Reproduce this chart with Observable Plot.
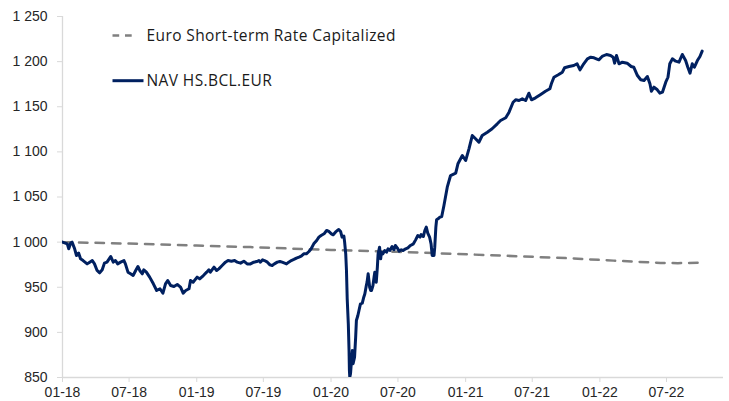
<!DOCTYPE html>
<html>
<head>
<meta charset="utf-8">
<script src="https://cdn.jsdelivr.net/npm/d3@7"></script>
<script src="https://cdn.jsdelivr.net/npm/@observablehq/plot@0.6"></script>
<style>
  html, body { margin: 0; padding: 0; background: #fff; }
  #chart { position: relative; width: 729px; height: 401px; }
</style>
</head>
<body>
<div id="chart"></div>
<script>
// ---- Data ----
const navDates = [
  "2018-01-01","2018-01-14","2018-01-18","2018-01-23","2018-01-27","2018-02-03","2018-02-08","2018-02-14","2018-02-19","2018-02-26",
  "2018-03-09","2018-03-16","2018-03-23","2018-03-29","2018-04-05","2018-04-12","2018-04-19","2018-04-25","2018-05-02","2018-05-12",
  "2018-05-19","2018-05-25","2018-05-31","2018-06-08","2018-06-17","2018-06-21","2018-06-28","2018-07-05","2018-07-12","2018-07-19",
  "2018-07-25","2018-07-30","2018-08-06","2018-08-10","2018-08-17","2018-08-26","2018-09-05","2018-09-14","2018-09-23","2018-10-01",
  "2018-10-08","2018-10-14","2018-10-22","2018-10-31","2018-11-09","2018-11-18","2018-11-25","2018-12-02","2018-12-11","2018-12-15",
  "2018-12-22","2019-01-02","2019-01-09","2019-01-19","2019-01-28","2019-02-03","2019-02-07","2019-02-17","2019-02-24","2019-03-02",
  "2019-03-11","2019-03-20","2019-03-27","2019-04-05","2019-04-14","2019-04-21","2019-04-30","2019-05-09","2019-05-18","2019-05-27",
  "2019-06-05","2019-06-13","2019-06-19","2019-06-23","2019-06-29","2019-07-04","2019-07-12","2019-07-19","2019-07-25","2019-07-31",
  "2019-08-08","2019-08-15","2019-08-21","2019-08-28","2019-09-02","2019-09-08","2019-09-15","2019-09-22","2019-09-29","2019-10-06",
  "2019-10-12","2019-10-19","2019-10-26","2019-11-02","2019-11-08","2019-11-15","2019-11-23","2019-11-29","2019-12-05","2019-12-13",
  "2019-12-20","2019-12-26","2020-01-02","2020-01-07","2020-01-13","2020-01-18","2020-01-22","2020-01-27","2020-01-31","2020-02-05",
  "2020-02-07","2020-02-10","2020-02-12","2020-02-14","2020-02-17","2020-02-19","2020-02-20","2020-02-21","2020-02-23","2020-02-25",
  "2020-02-28","2020-03-01","2020-03-05","2020-03-08","2020-03-10","2020-03-14","2020-03-17","2020-03-21","2020-03-26","2020-03-30",
  "2020-04-02","2020-04-06","2020-04-08","2020-04-11","2020-04-15","2020-04-18","2020-04-20","2020-04-24","2020-04-27","2020-04-29",
  "2020-05-03","2020-05-06","2020-05-08","2020-05-12","2020-05-15","2020-05-17","2020-05-21","2020-05-26","2020-05-31","2020-06-04",
  "2020-06-09","2020-06-15","2020-06-20","2020-06-24","2020-06-29","2020-07-04","2020-07-10","2020-07-15","2020-07-22","2020-07-28",
  "2020-08-04","2020-08-12","2020-08-18","2020-08-24","2020-08-30","2020-09-02","2020-09-08","2020-09-12","2020-09-16","2020-09-20",
  "2020-09-25","2020-09-29","2020-10-02","2020-10-07","2020-10-09","2020-10-12","2020-10-14","2020-10-18","2020-10-23","2020-10-28",
  "2020-11-03","2020-11-12","2020-11-21","2020-12-05","2020-12-11","2020-12-23","2021-01-01","2021-01-10","2021-01-19","2021-01-28",
  "2021-02-06","2021-02-15","2021-03-01","2021-03-14","2021-03-28","2021-04-06","2021-04-20","2021-04-29","2021-05-10","2021-05-17",
  "2021-05-26","2021-06-04","2021-06-13","2021-06-22","2021-06-29","2021-07-10","2021-07-24","2021-08-06","2021-08-18","2021-08-22",
  "2021-08-29","2021-09-11","2021-09-21","2021-09-27","2021-10-09","2021-10-22","2021-10-31","2021-11-08","2021-11-18","2021-11-28",
  "2021-12-07","2021-12-16","2021-12-29","2022-01-07","2022-01-19","2022-01-30","2022-02-06","2022-02-10","2022-02-15","2022-02-22",
  "2022-03-03","2022-03-16","2022-03-27","2022-04-03","2022-04-13","2022-04-22","2022-05-01","2022-05-10","2022-05-17","2022-05-21",
  "2022-05-28","2022-06-06","2022-06-13","2022-06-20","2022-06-29","2022-07-05","2022-07-10","2022-07-17","2022-07-26","2022-08-04",
  "2022-08-13","2022-08-22","2022-08-28","2022-09-03","2022-09-09","2022-09-15","2022-09-23","2022-09-30","2022-10-06"
];
const navValues = [
  1000,998.1,992.6,998.8,1000,992.6,985.2,987.8,981.5,979.6,
  975.9,977.8,979.6,975.9,968.6,966,969.3,976.7,977.8,984.1,
  977.8,979.6,975.9,977.8,979.6,975.9,966.7,964.9,963,968.6,
  973,968.6,964.9,969.3,966.7,961.2,953.8,946.4,948.3,943.4,
  953.8,957.5,951.9,950.8,953,950.1,943.4,946.4,948.3,957.5,
  955.6,961.2,959.3,963,966.7,969.3,966.7,972.3,968.6,970.4,
  974.1,977.8,979.6,978.9,979.6,977.8,976.7,978.9,975.9,975.9,
  977.8,978.5,979.6,977.8,980.4,979.6,977.8,974.8,974.1,975.9,
  977.8,978.5,977.8,976.7,975.9,977.8,979.6,980.8,982.2,983.3,
  984.4,987,987,989.6,992.6,998.1,1001.8,1005.5,1007.3,1009.2,
  1012.9,1011.8,1009.2,1008.1,1011,1012.9,1014,1011.8,1005.5,1006.6,
  1000,987,968.6,937.2,909.5,879.9,857.8,850.4,854.1,865.2,
  879.9,865.2,872.5,894.7,913.2,918.7,924.2,931.6,932.4,939,
  942.7,951.9,955.6,964.9,950.1,946.4,946.4,951.9,961.2,966.7,
  955.6,972.3,987,994.4,981.5,988.9,987,990.7,988.9,992.6,
  990.7,995.1,991.5,996.3,993.7,990,991.5,990.7,992.6,993.7,
  996.3,998.1,1002.5,1007.3,1005.5,1008.4,1006.2,1012.9,1016.6,1010,
  1005.5,998.1,985.2,985.2,994.4,1016.6,1024.7,1025.8,1027.6,1028.4,
  1040.6,1060.9,1073.8,1076.4,1086.8,1096,1090.4,1103.4,1118.1,1114.5,
  1110.7,1118.1,1121.8,1125.6,1131.1,1134.8,1137.8,1144,1155,1157.7,
  1156.9,1158.8,1156.9,1165,1157.7,1159.9,1163.6,1167.2,1169.9,1175.4,
  1182.7,1185.7,1188.3,1193.2,1194.6,1195.7,1197.6,1190.9,1197.6,1203.1,
  1204.9,1204.2,1202,1205.7,1207.9,1206.8,1204.9,1198.3,1206.8,1197.6,
  1199.4,1198.3,1194.6,1193.8,1184.6,1179.9,1179.1,1183.5,1175.4,1167.2,
  1171.7,1168.8,1165,1166.1,1177.2,1182.7,1197.6,1203.1,1200.5,1199.4,
  1207.9,1201.2,1193.8,1187.2,1197.6,1193.8,1201.2,1205.7,1211.6
];
const estrDates  = ["2018-01-01","2018-07-01","2019-01-01","2019-05-27","2020-01-01","2020-07-01","2021-03-10","2021-10-01","2022-02-07","2022-06-15","2022-08-01","2022-10-06"];
const estrValues = [1000, 998.4, 996.2, 994.5, 991.3, 989.3, 985.5, 982.3, 979.5, 977.0, 976.7, 977.3];
const xTickDates = ["2018-01-01","2018-07-01","2019-01-01","2019-07-01","2020-01-01","2020-07-01","2021-01-01","2021-07-01","2022-01-01","2022-07-01"];
const xDomain = ["2018-01-01","2022-12-03"];
const yTicks = [850, 900, 950, 1000, 1050, 1100, 1150, 1200, 1250];
const yDomain = [850, 1250];
const seriesNames = ["Euro Short-term Rate Capitalized", "NAV HS.BCL.EUR"];

// ---- Build tables ----
const parse = d3.utcParse("%Y-%m-%d");
const nav = navDates.map((d, i) => ({date: parse(d), value: navValues[i]}));
const estr = estrDates.map((d, i) => ({date: parse(d), value: estrValues[i]}));
const fmtY = d3.formatLocale({decimal: ".", thousands: " ", grouping: [3], currency: ["", ""]}).format(",");
const fmtX = d3.utcFormat("%m-%y");

const axisGrey = "#d9d9d9";
const navColor = "#002060";
const estrColor = "#808080";

const chart = Plot.plot({
  width: 729,
  height: 401,
  marginLeft: 62,
  marginRight: 6,
  marginTop: 16,
  marginBottom: 24,
  style: {fontFamily: "'Liberation Sans', Arial, sans-serif", fontSize: "14px", color: "#262626", background: "#fff"},
  x: {type: "utc", domain: xDomain.map(parse)},
  y: {domain: yDomain},
  marks: [
    Plot.ruleY([yDomain[0]], {stroke: axisGrey, strokeWidth: 1.3}),
    Plot.ruleX([parse(xDomain[0])], {stroke: axisGrey, strokeWidth: 1.3}),
    Plot.axisX({ticks: xTickDates.map(parse), tickFormat: fmtX, tickSize: 5, tickPadding: 5, stroke: axisGrey, fill: "#262626", label: null}),
    Plot.axisY({ticks: yTicks, tickFormat: fmtY, tickSize: 5, tickPadding: 10, stroke: axisGrey, fill: "#262626", label: null}),
    Plot.line(estr, {x: "date", y: "value", stroke: estrColor, strokeWidth: 2.5, strokeDasharray: "8.5,8", clip: true}),
    Plot.line(nav, {x: "date", y: "value", stroke: navColor, strokeWidth: 3, strokeLinejoin: "round", clip: true})
  ]
});
document.getElementById("chart").appendChild(chart);

// ---- Legend (inside the plot area, top-left) ----
const svg = d3.select(chart);
const lg = svg.append("g")
  .attr("font-family", "'Open Sans', sans-serif")
  .attr("font-size", "15.5px")
  .attr("letter-spacing", "0.4px")
  .attr("text-anchor", "start")
  .attr("fill", "#1a1a1a");
lg.append("line").attr("x1", 112.5).attr("x2", 132).attr("y1", 35.5).attr("y2", 35.5)
  .attr("stroke", estrColor).attr("stroke-width", 2.5).attr("stroke-dasharray", "6.7,5.8");
lg.append("text").attr("x", 146.5).attr("y", 41).attr("text-anchor", "start").text(seriesNames[0]);
lg.append("line").attr("x1", 112.5).attr("x2", 143.5).attr("y1", 80.7).attr("y2", 80.7)
  .attr("stroke", navColor).attr("stroke-width", 3);
lg.append("text").attr("x", 146.5).attr("y", 86).attr("text-anchor", "start").text(seriesNames[1]);
</script>
</body>
</html>
